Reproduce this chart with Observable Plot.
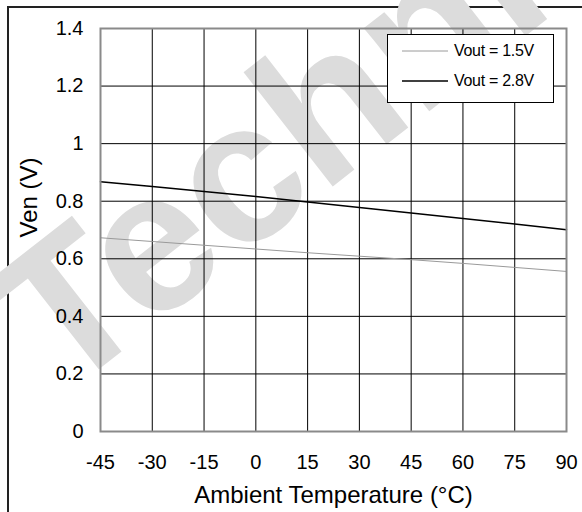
<!DOCTYPE html>
<html><head><meta charset="utf-8">
<script src="https://cdn.jsdelivr.net/npm/d3@7"></script>
<script src="https://cdn.jsdelivr.net/npm/@observablehq/plot@0.6"></script>
<style>
html,body{margin:0;padding:0;background:#fff;}
#wrap{position:relative;width:582px;height:512px;overflow:hidden;font-family:"Liberation Sans",Arial,sans-serif;background:#fff;}
#outer{position:absolute;left:7px;top:6px;width:640px;height:640px;border:2px solid #222;box-sizing:border-box;}
#wm{position:absolute;left:0;top:0;}
#chart{position:absolute;left:0;top:0;}
#legend{position:absolute;left:387px;top:34px;width:167px;height:69px;border:1px solid #000;background:#fff;box-sizing:border-box;font-size:16px;color:#000;letter-spacing:-0.3px;}
.row{position:absolute;left:14px;height:18px;display:flex;align-items:center;white-space:nowrap;}
.row svg{margin-right:6px;}
#chart g[aria-label="x-axis tick label"], #chart g[aria-label="y-axis tick label"]{font-size:20px !important;}
</style></head>
<body>
<div id="wrap">
  <div id="outer"></div>
  <svg id="wm" width="582" height="512"><text x="0" y="0" transform="translate(62,398) rotate(-38)" font-family="Liberation Sans, Arial, sans-serif" font-weight="bold" font-size="200" fill="#dcdcdc">Technical</text></svg>
  <div id="chart"></div>
  <div id="legend"></div>
</div>
<script>
const temps = [-45, -30, -15, 0, 15, 30, 45, 60, 75, 90];
const ven15 = [0.673, 0.660, 0.647, 0.634, 0.621, 0.609, 0.597, 0.584, 0.570, 0.556];
const ven28 = [0.868, 0.851, 0.834, 0.816, 0.797, 0.778, 0.759, 0.740, 0.721, 0.701];
const seriesNames = ["Vout = 1.5V", "Vout = 2.8V"];
const seriesColors = ["#9a9a9a", "#000000"];
const seriesWidths = [1, 1.5];
const xTicks = [-45, -30, -15, 0, 15, 30, 45, 60, 75, 90];
const yTicks = [0, 0.2, 0.4, 0.6, 0.8, 1.0, 1.2, 1.4];
const xTitle = "Ambient Temperature (°C)";
const yTitle = "Ven (V)";

const rows = [];
temps.forEach((t, i) => {
  rows.push({t, v: ven15[i], s: seriesNames[0]});
  rows.push({t, v: ven28[i], s: seriesNames[1]});
});

const chart = Plot.plot({
  width: 582,
  height: 512,
  marginTop: 28,
  marginLeft: 100,
  marginRight: 16,
  marginBottom: 81,
  style: {fontFamily: "'Liberation Sans', Arial, sans-serif", fontSize: "20px", background: "transparent", color: "#000", overflow: "visible"},
  x: {domain: [-45, 90], ticks: xTicks},
  y: {domain: [0, 1.4], ticks: yTicks},
  marks: [
    Plot.gridX(xTicks, {stroke: "#000", strokeOpacity: 1, strokeWidth: 1}),
    Plot.gridY(yTicks, {stroke: "#000", strokeOpacity: 1, strokeWidth: 1}),
    Plot.line(rows.filter(d => d.s === seriesNames[0]), {x: "t", y: "v", stroke: seriesColors[0], strokeWidth: seriesWidths[0]}),
    Plot.line(rows.filter(d => d.s === seriesNames[1]), {x: "t", y: "v", stroke: seriesColors[1], strokeWidth: seriesWidths[1]}),
    Plot.frame({stroke: "#8a8a8a", strokeWidth: 2}),
    Plot.axisX(xTicks, {tickSize: 0, tickPadding: 23, label: null, fontSize: 20, tickFormat: d => String(d)}),
    Plot.axisY(yTicks, {tickSize: 0, tickPadding: 17, label: null, fontSize: 20, tickFormat: d => String(+d.toFixed(1))}),
    Plot.text([xTitle], {frameAnchor: "bottom", dy: 64, fontSize: 24, lineAnchor: "middle", text: d => d}),
    Plot.text([yTitle], {frameAnchor: "left", dx: -71, dy: 7.5, rotate: -90, fontSize: 24, lineAnchor: "middle", text: d => d})
  ]
});
document.getElementById("chart").appendChild(chart);

// legend
const legend = document.getElementById("legend");
seriesNames.forEach((name, i) => {
  const row = document.createElement("div");
  row.className = "row";
  row.style.top = (i === 0 ? 7 : 37) + "px";
  row.innerHTML = `<svg width="46" height="4"><line x1="0" x2="46" y1="2" y2="2" stroke="${seriesColors[i]}" stroke-width="${seriesWidths[i]}"/></svg><span>${name}</span>`;
  legend.appendChild(row);
});
</script>
</body></html>
